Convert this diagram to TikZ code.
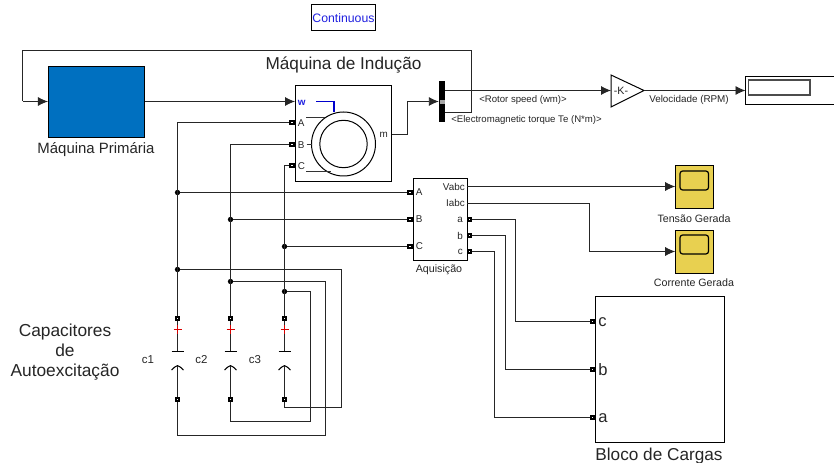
\documentclass[tikz,border=0pt]{standalone}
\usepackage{fontspec}
\setmainfont{Liberation Sans}
\usepackage{tikz}
\usetikzlibrary{arrows.meta,positioning}
\definecolor{azulbloco}{HTML}{0070C0}
\definecolor{amarelo}{HTML}{E8D050}
\definecolor{azultexto}{HTML}{2020E0}
\definecolor{texto}{HTML}{262626}
\def\px{0.75pt}
\tikzset{
  bloco/.style={draw=black, line width=0.75pt, fill=white, inner sep=0pt},
  porta/.style={draw=black, line width=1.3pt, fill=white, minimum size=2.5pt, inner sep=0pt},
  juncao/.style={circle, fill=black, minimum size=4pt, inner sep=0pt},
  fio/.style={draw=black!85, line width=0.7pt},
  seta/.style={fio, -{Latex[length=7.5pt,width=6.8pt]}},
  rotulo/.style={font=\fontsize{7.4pt}{8pt}\selectfont, text=texto, inner sep=0pt},
  nota/.style={font=\fontsize{8pt}{9pt}\selectfont, text=texto, inner sep=0pt},
  fino/.style={font=\fontsize{7.2pt}{8pt}\selectfont, text=texto, inner sep=0pt},
  titulo/.style={font=\fontsize{12.9pt}{15pt}\selectfont, text=texto, inner sep=0pt, align=center},
  letra/.style={font=\fontsize{12.4pt}{13pt}\selectfont, text=texto, inner sep=0pt, anchor=west}
}
\begin{document}
\begin{tikzpicture}[x=0.75pt,y=-0.75pt]
  \useasboundingbox (0,0) rectangle (834,463);
  \fill[white] (0,0) rectangle (834,463);

  \node[bloco, minimum width=64*\px, minimum height=26*\px, text=azultexto, font=\fontsize{9.2pt}{10pt}\selectfont] (continuo) at (343.5,18) {Continuous};

  % maquina primaria e maquina de inducao
  \node[bloco, fill=azulbloco, minimum width=96.5*\px, minimum height=71*\px] (primaria) at (96.7,101.7) {};
  \node[titulo, font=\fontsize{11.2pt}{12pt}\selectfont] (lprimaria) at (96,149.5) {Máquina Primária};
  \node[bloco, minimum width=96.5*\px, minimum height=96*\px] (maquina) at (343.3,134) {};
  \node[titulo] (lmaquina) at (343.5,64.5) {Máquina de Indução};
  \coordinate (mw) at (295,101.5);
  \coordinate (mm) at (391.5,134.5);
  \node[porta] (mA) at (292,122.5) {};
  \node[porta] (mB) at (292,144.5) {};
  \node[porta] (mC) at (292,165.5) {};
  \node[rotulo, anchor=west, text=azultexto] (lw) at (297.5,102.5) {\textbf{w}};
  \node[rotulo, anchor=west] (lA) at (297.5,123.5) {A};
  \node[rotulo, anchor=west] (lB) at (297.5,144.8) {B};
  \node[rotulo, anchor=west] (lC) at (297.5,166.5) {C};
  \node[rotulo, anchor=east] (lm) at (388,134.5) {m};
  \draw[black, line width=0.75pt] (343.5,144) circle (32);
  \draw[black, line width=0.75pt] (343.5,144) circle (23.7);
  \draw[black!80, line width=0.75pt] (306,117.5) -- (325,117.5);
  \draw[black!80, line width=0.75pt] (306.5,144.5) -- (311.5,144.5);
  \draw[black!80, line width=0.75pt] (306,171.5) -- (331,171.5);
  \draw[blue!80!black, line width=1pt] (316,101.5) -- (334,101.5) -- (334,112.5);

  % barramento, ganho e display
  \node[fill=black, minimum width=6.3*\px, minimum height=41*\px, inner sep=0pt] (barra) at (442.2,101.5) {};
  \fill[white!65!black] (440,99.7) rectangle (445,104);
  \coordinate (bs1) at (445.3,90.5);
  \coordinate (bs2) at (445.3,112.5);
  \node[fino, anchor=west] (lrotor) at (479,99.7) {<Rotor speed (wm)>};
  \node[fino, anchor=west] (ltorque) at (451,120.3) {<Electromagnetic torque Te (N*m)>};
  \draw[black, line width=0.75pt, fill=white] (611,75) -- (644,90.5) -- (611,107) -- cycle;
  \coordinate (ge) at (611,90.5);
  \coordinate (gs) at (644,90.5);
  \node[nota] (lganho) at (621,91) {-K-};
  \node[rotulo] (lvel) at (689,99.5) {Velocidade (RPM)};
  \draw[black, line width=0.75pt] (834,76.5) -- (745.5,76.5) -- (745.5,105) -- (834,105);
  \draw[black!70, line width=1pt] (748.5,80) rectangle (810,95);
  \coordinate (de) at (745.5,90.5);

  % aquisicao
  \node[bloco, minimum width=54*\px, minimum height=81*\px] (aquis) at (440,219.5) {};
  \node[nota] (laquis) at (439,270) {Aquisição};
  \node[porta] (aqA) at (410,192.5) {};
  \node[porta] (aqB) at (410,219.5) {};
  \node[porta] (aqC) at (410,246.5) {};
  \node[rotulo, anchor=west] (laA) at (415.5,192.5) {A};
  \node[rotulo, anchor=west] (laB) at (415.5,219.5) {B};
  \node[rotulo, anchor=west] (laC) at (415.5,246.5) {C};
  \coordinate (aqV) at (467,186.5);
  \coordinate (aqI) at (467,203.5);
  \node[porta] (aqa) at (469.5,219.5) {};
  \node[porta] (aqb) at (469.5,235.5) {};
  \node[porta] (aqc) at (469.5,251.5) {};
  \node[rotulo, anchor=east] (laV) at (465,186.7) {Vabc};
  \node[rotulo, anchor=east] (laI) at (465,203.3) {Iabc};
  \node[rotulo, anchor=east] (laa) at (463,219.7) {a};
  \node[rotulo, anchor=east] (lab) at (463,235.5) {b};
  \node[rotulo, anchor=east] (lac) at (463,251.5) {c};

  % escopos
  \node[bloco, fill=amarelo, minimum width=38*\px, minimum height=43*\px] (sc1) at (694.7,187.5) {};
  \node[bloco, fill=amarelo, minimum width=38*\px, minimum height=43*\px] (sc2) at (694.7,251.5) {};
  \draw[black, line width=0.9pt, rounded corners=2pt, fill=amarelo] (680,171) rectangle (708.5,190);
  \draw[black, line width=0.9pt, rounded corners=2pt, fill=amarelo] (680,235) rectangle (708.5,254);
  \node[nota] (ls1) at (694,218.5) {Tensão Gerada};
  \node[nota] (ls2) at (694,282.5) {Corrente Gerada};

  % bloco de cargas
  \node[bloco, minimum width=129*\px, minimum height=146*\px] (cargas) at (659.8,369.7) {};
  \node[titulo] (lcargas) at (659,456) {Bloco de Cargas};
  \node[porta] (cc) at (592.5,321.5) {};
  \node[porta] (cb) at (592.5,369.5) {};
  \node[porta] (ca) at (592.5,417.5) {};
  \node[letra] (lcc) at (598,322) {c};
  \node[letra] (lcb) at (598,369.5) {b};
  \node[letra] (lca) at (598,418.5) {a};

  % capacitores
  \foreach \n/\cx in {1/177.5,2/230.5,3/284.5}{
    \node[porta] (cap\n t) at (\cx,318.5) {};
    \node[porta] (cap\n b) at (\cx,399.5) {};
    \draw[fio] (cap\n t) -- (\cx,351.5);
    \draw[black, line width=0.8pt] (\cx-6,351.5) -- (\cx+6,351.5);
    \draw[black, line width=0.8pt] (\cx-6,370) .. controls (\cx-3,367) and (\cx-1,365.7) .. (\cx,365.7) .. controls (\cx+1,365.7) and (\cx+3,367) .. (\cx+6,370);
    \draw[fio] (\cx,365.7) -- (cap\n b);
  }
  \node[nota, font=\fontsize{8.6pt}{10pt}\selectfont] (lc1) at (148,360) {c1};
  \node[nota, font=\fontsize{8.6pt}{10pt}\selectfont] (lc2) at (201.5,360) {c2};
  \node[nota, font=\fontsize{8.6pt}{10pt}\selectfont] (lc3) at (255,360) {c3};
  \node[titulo, font=\fontsize{13pt}{15pt}\selectfont] (lauto) at (65,352) {Capacitores\\de\\Autoexcitação};

  % juncoes
  \node[juncao] (jA1) at (177.5,192.5) {};
  \node[juncao] (jB1) at (230.5,219.5) {};
  \node[juncao] (jC1) at (284.5,246.5) {};
  \node[juncao] (jA2) at (177.5,269.5) {};
  \node[juncao] (jB2) at (230.5,281.5) {};
  \node[juncao] (jC2) at (284.5,291.5) {};

  % ligacoes
  \draw[seta] (primaria.east |- mw) -- (mw);
  \draw[seta] (bs1) -- (ge);
  \draw[seta] (gs) -- (de);
  \draw[seta] (mm) -- (407.5,134.5) -- (407.5,101.5) -- (barra.west |- mw);
  \draw[fio] (bs2) -- (471.5,112.5) -- (471.5,50.5) -- (22.5,50.5) -- (22.5,101.5);
  \draw[seta] (22.5,101.5) -- (primaria.west |- mw);
  \draw[fio] (mA) -- (177.5,122.5) -- (cap1t);
  \draw[fio] (mB) -- (230.5,144.5) -- (cap2t);
  \draw[fio] (mC) -- (284.5,165.5) -- (cap3t);
  \draw[fio] (jA1) -- (aqA);
  \draw[fio] (jB1) -- (aqB);
  \draw[fio] (jC1) -- (aqC);
  \draw[fio] (jA2) -- (341.5,269.5) -- (341.5,407.5) -- (284.5,407.5) -- (cap3b);
  \draw[fio] (jB2) -- (325.5,281.5) -- (325.5,435.5) -- (177.5,435.5) -- (cap1b);
  \draw[fio] (jC2) -- (310.5,291.5) -- (310.5,421.5) -- (230.5,421.5) -- (cap2b);
  \draw[seta] (aqV) -- (aqV -| sc1.west);
  \draw[seta] (aqI) -- (589.5,203.5) -- (589.5,251.5) -- (sc2.west);
  \draw[fio] (aqa) -- (515.5,219.5) -- (515.5,321.5) -- (cc);
  \draw[fio] (aqb) -- (505.5,235.5) -- (505.5,369.5) -- (cb);
  \draw[fio] (aqc) -- (494.5,251.5) -- (494.5,417.5) -- (ca);

  % sinais dos capacitores
  \foreach \cx in {177.5,230.5,284.5}{
    \draw[red!85!black, line width=0.75pt] (\cx-4,329.5) -- (\cx+4,329.5) (\cx,325) -- (\cx,334);
  }
\end{tikzpicture}
\end{document}
